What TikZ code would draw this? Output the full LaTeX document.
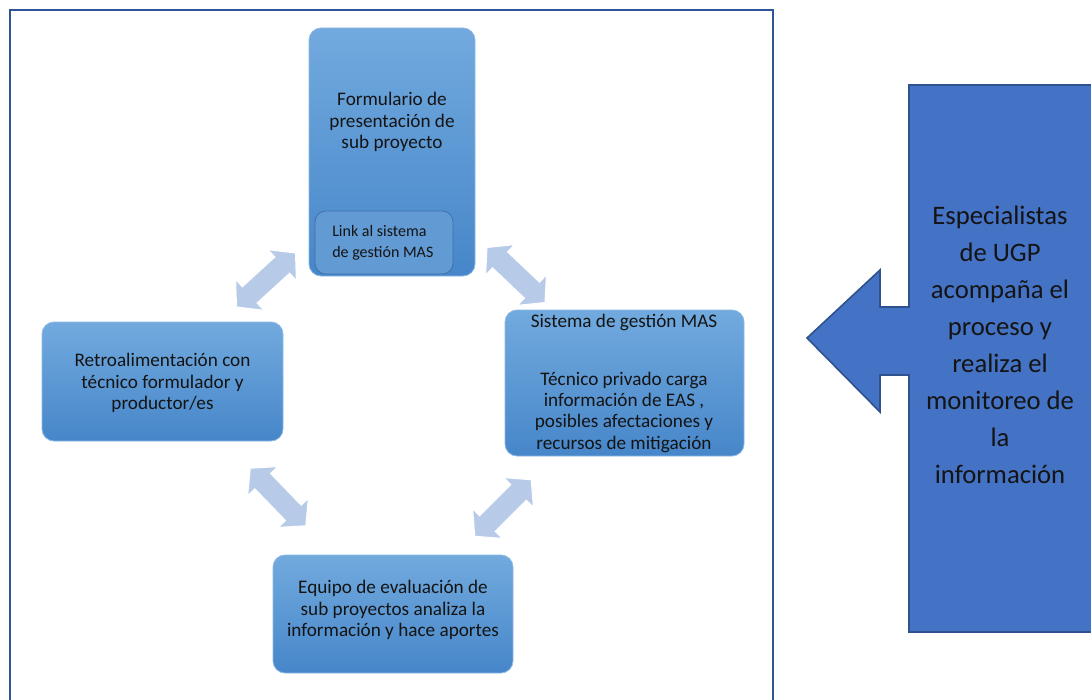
\documentclass[tikz,border=0pt]{standalone}
\usepackage{fontspec}
\setmainfont{Carlito}
\usetikzlibrary{positioning}
\definecolor{frameblue}{RGB}{47,85,151}
\definecolor{boxtop}{RGB}{114,170,222}
\definecolor{boxbot}{RGB}{70,134,201}
\definecolor{boxedge}{RGB}{140,185,228}
\definecolor{linkfill}{RGB}{98,154,212}
\definecolor{linkedge}{RGB}{62,112,172}
\definecolor{arrowblue}{RGB}{183,203,233}
\definecolor{calloutblue}{RGB}{68,114,196}
\definecolor{calloutedge}{RGB}{47,82,143}
\begin{document}
\begin{tikzpicture}[x=.75pt,y=-.75pt,
	box/.style={rounded corners=9pt,top color=boxtop,bottom color=boxbot,draw=boxedge,line width=.6pt,inner sep=0pt},
	txt/.style={align=center,font=\fontsize{14.4}{16}\selectfont,text=black!92,inner sep=0pt},
	dblarrow/.style={fill=arrowblue,draw=white,line width=.8pt,line join=miter}]
	\useasboundingbox (0,0) rectangle (1091,699);
	\clip (0,0) rectangle (1091,699);
	% marco
	\draw[frameblue,line width=1.9pt] (10,720)--(10,10)--(773,10)--(773,720);
	% cajas
	\node[box,minimum width=166*.75pt,minimum height=248*.75pt] (form) at (392,152) {};
	\node[txt] (formtxt) at (392,122) {Formulario de\\presentación de\\sub proyecto};
	\node[rounded corners=8pt,fill=linkfill,draw=linkedge,line width=.6pt,minimum width=138*.75pt,minimum height=63*.75pt] (link) at (384,242.5) {};
	\node[txt,align=left,anchor=west,font=\fontsize{12}{16}\selectfont] (linktxt) at (332,242.5) {Link al sistema\\de gestión MAS};
	\node[box,minimum width=239*.75pt,minimum height=146*.75pt] (sis) at (624.5,383) {};
	\node[txt] (sistit) at (624,322) {Sistema de gestión MAS};
	\node[txt] (sistxt) at (624,412) {Técnico privado carga\\información de EAS ,\\posibles afectaciones y\\recursos de mitigación};
	\node[box,minimum width=241*.75pt,minimum height=119*.75pt] (retro) at (162.5,381.5) {};
	\node[txt] (retrotxt) at (162.5,383) {Retroalimentación con\\técnico formulador y\\productor/es};
	\node[box,minimum width=240*.75pt,minimum height=118*.75pt] (equipo) at (393,614) {};
	\node[txt] (equipotxt) at (393,610) {Equipo de evaluación de\\sub proyectos analiza la\\información y hace aportes};
	% flechas dobles
	\foreach \cx/\cy/\ang in {266/280/42.5,516/275/-43.5,278/497/-46,503/508/45}
	\path[dblarrow,shift={(\cx,\cy)},rotate=\ang] (-40,0)--(-22,-21)--(-22,-11)--(22,-11)--(22,-21)--(40,0)--(22,21)--(22,11)--(-22,11)--(-22,21)--cycle;
	% llamada UGP
	\draw[fill=calloutblue,draw=calloutedge,line width=1.2pt,line join=miter]
	(1100,85)--(909,85)--(909,307)--(880,307)--(880,270)--(807,338)--(880,412)--(880,375)--(909,375)--(909,632)--(1100,632)--cycle;
	\node[txt,font=\fontsize{20}{27.75}\selectfont] (ugp) at (1000,345) {Especialistas\\de UGP\\acompaña el\\proceso y\\realiza el\\monitoreo de\\la\\información};
\end{tikzpicture}
\end{document}
